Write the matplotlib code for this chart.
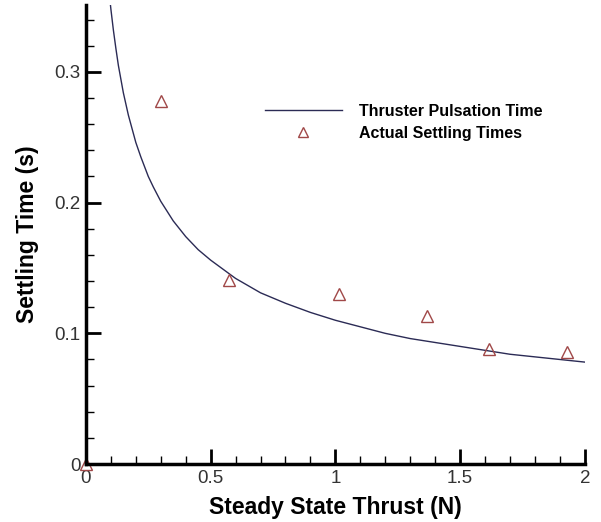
import matplotlib
matplotlib.use('Agg')
import matplotlib.pyplot as plt
from matplotlib.ticker import MultipleLocator
import numpy as np

plt.rcParams['font.family'] = ['Liberation Sans', 'DejaVu Sans']

# Thruster pulsation time curve
thrust_curve = [0.095, 0.1, 0.11, 0.12, 0.13, 0.15, 0.17, 0.2, 0.22, 0.25, 0.27, 0.3,
                0.35, 0.4, 0.45, 0.5, 0.6, 0.7, 0.8, 0.9, 1.0, 1.1, 1.2, 1.3, 1.4,
                1.5, 1.6, 1.7, 1.8, 1.9, 2.0]
time_curve = [0.357, 0.348, 0.332, 0.318, 0.305, 0.284, 0.267, 0.246, 0.235, 0.220,
              0.212, 0.201, 0.186, 0.174, 0.164, 0.156, 0.142, 0.131, 0.123, 0.116,
              0.110, 0.105, 0.100, 0.096, 0.093, 0.090, 0.087, 0.084, 0.082, 0.080,
              0.078]

# Actual settling times (markers)
thrust_pts = [0.0, 0.30, 0.573, 1.014, 1.367, 1.615, 1.928]
time_pts = [0.0, 0.278, 0.141, 0.130, 0.113, 0.088, 0.0857]

fig = plt.figure(figsize=(6.01, 5.22), dpi=100)
ax = fig.add_axes([0.143, 0.111, 0.830, 0.879])

ax.plot(thrust_curve, time_curve, color='#2b2b55', linewidth=1.0,
        label='Thruster Pulsation Time')
ax.plot(thrust_pts, time_pts, linestyle='none', marker='^', markersize=8,
        markerfacecolor='none', markeredgecolor='#a04848', markeredgewidth=1.0,
        label='Actual Settling Times', clip_on=False)

ax.set_xlim(0, 2)
ax.set_ylim(0, 0.351)
ax.xaxis.set_major_locator(MultipleLocator(0.5))
ax.xaxis.set_minor_locator(MultipleLocator(0.1))
ax.yaxis.set_major_locator(MultipleLocator(0.1))
ax.yaxis.set_minor_locator(MultipleLocator(0.02))
ax.xaxis.set_major_formatter(matplotlib.ticker.FuncFormatter(lambda v, p: f'{v:g}'))
ax.yaxis.set_major_formatter(matplotlib.ticker.FuncFormatter(lambda v, p: f'{v:g}'))

for s in ['top', 'right']:
    ax.spines[s].set_visible(False)
for s in ['left', 'bottom']:
    ax.spines[s].set_linewidth(2.5)

ax.tick_params(which='major', direction='in', length=11, width=2, labelsize=13.5,
               pad=4, labelcolor='#333333')
ax.tick_params(which='minor', direction='in', length=6, width=1)

ax.set_xlabel('Steady State Thrust (N)', fontsize=16.5, fontweight='bold', labelpad=7)
ax.set_ylabel('Settling Time (s)', fontsize=16.5, fontweight='bold', labelpad=11)

ax.legend(loc='upper left', bbox_to_anchor=(0.359, 0.785), frameon=False,
          borderpad=0, borderaxespad=0, handlelength=4.8, handletextpad=1.1,
          labelspacing=0.45, markerscale=0.9, prop={'size': 11.5, 'weight': 'bold'})

fig.savefig('out.png', dpi=100)
